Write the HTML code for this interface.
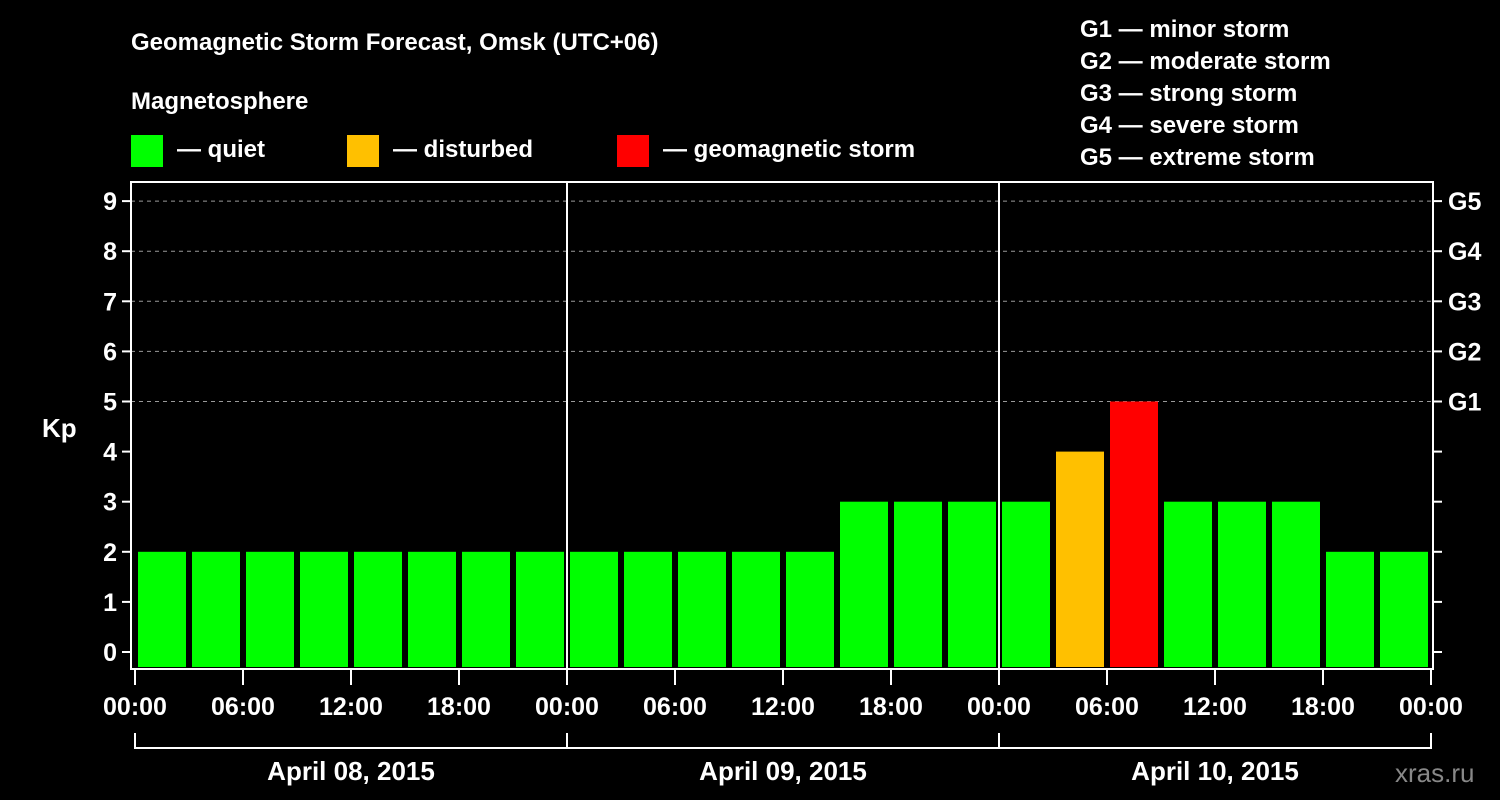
<!DOCTYPE html>
<html><head><meta charset="utf-8">
<style>
html,body{margin:0;padding:0;background:#000;}
svg{display:block;font-family:"Liberation Sans",Arial,sans-serif;font-weight:bold;}
</style></head>
<body>
<svg id="chart" width="1500" height="800" viewBox="0 0 1500 800">
<text x="131" y="50" fill="#fff" font-size="24">Geomagnetic Storm Forecast, Omsk (UTC+06)</text>
<text x="131" y="109" fill="#fff" font-size="24">Magnetosphere</text>
<g><rect x="131" y="135" width="32" height="32" fill="#00ff00"/><text x="177" y="157" fill="#fff" font-size="24">— quiet</text></g>
<g><rect x="347" y="135" width="32" height="32" fill="#ffc000"/><text x="393" y="157" fill="#fff" font-size="24">— disturbed</text></g>
<g><rect x="617" y="135" width="32" height="32" fill="#ff0000"/><text x="663" y="157" fill="#fff" font-size="24">— geomagnetic storm</text></g>
<g fill="#fff" font-size="24">
<text x="1080" y="37">G1 — minor storm</text>
<text x="1080" y="69">G2 — moderate storm</text>
<text x="1080" y="101">G3 — strong storm</text>
<text x="1080" y="133">G4 — severe storm</text>
<text x="1080" y="165">G5 — extreme storm</text>
</g>
<g id="grid"></g>
<g id="bars"></g>
<g id="axes"></g>
<text x="42" y="437" fill="#fff" font-size="26">Kp</text>
<text x="1395" y="782" fill="#888" font-size="26" font-weight="normal">xras.ru</text>
</svg>
<script>
const kpValues=[2,2,2,2,2,2,2,2, 2,2,2,2,2,3,3,3, 3,4,5,3,3,3,2,2];
const yTicks=[0,1,2,3,4,5,6,7,8,9];
const gLabels=["G1","G2","G3","G4","G5"];
const xTickLabels=["00:00","06:00","12:00","18:00","00:00","06:00","12:00","18:00","00:00","06:00","12:00","18:00","00:00"];
const dayLabels=["April 08, 2015","April 09, 2015","April 10, 2015"];
const NS="http://www.w3.org/2000/svg";
const L=131,R=1433,T=182,B=669,X0=135,DAY=432;
const y=v=>652-50.1*v;
const x=h=>X0+h*DAY/24;
function mk(tag,attrs,parent,txt){const e=document.createElementNS(NS,tag);for(const k in attrs)e.setAttribute(k,attrs[k]);if(txt!==undefined)e.textContent=txt;parent.appendChild(e);return e;}
const grid=document.getElementById('grid'),bars=document.getElementById('bars'),axes=document.getElementById('axes');
yTicks.forEach(v=>{
 if(v>=5){const g=mk('line',{x1:L,x2:R,y1:y(v),y2:y(v),stroke:'#999','stroke-width':1,'stroke-dasharray':'4,4'},grid);
 
 }
 const t=mk('line',{x1:L-9,x2:L,y1:y(v),y2:y(v),stroke:'#fff','stroke-width':2},axes);
 
 
 const tr=mk('line',{x1:R,x2:R+9,y1:y(v),y2:y(v),stroke:'#fff','stroke-width':2},axes);
 
 
 const lb=mk('text',{x:L-14,y:y(v)+9,fill:'#fff','font-size':25,'text-anchor':'end'},axes,String(v));
 
 
});
gLabels.forEach((g,i)=>{
 const t=mk('text',{x:R+15,y:y(5+i)+9,fill:'#fff','font-size':25},axes,g);
 
 
});
kpValues.forEach((v,i)=>{
 const col=v>=5?'#ff0000':(v>=4?'#ffc000':'#00ff00');
 const b=mk('rect',{x:x(i*3)+3,y:y(v),width:DAY/8-6,height:667-y(v),fill:col},bars);
 
 
});
[1,2].forEach(d=>{
 const l=mk('line',{x1:x(d*24),x2:x(d*24),y1:T,y2:B,stroke:'#fff','stroke-width':2},axes);
 
 
});
const fr=mk('rect',{x:L,y:T,width:R-L,height:B-T,fill:'none',stroke:'#fff','stroke-width':2},axes);


xTickLabels.forEach((s,i)=>{
 const xx=x(i*6);
 const t=mk('line',{x1:xx,x2:xx,y1:B,y2:B+16,stroke:'#fff','stroke-width':2},axes);
 
 
 const lb=mk('text',{x:xx,y:715,fill:'#fff','font-size':25,'text-anchor':'middle'},axes,s);
 
 
});
const br=mk('line',{x1:x(0),x2:x(72),y1:748,y2:748,stroke:'#fff','stroke-width':2},axes);


[0,1,2,3].forEach(d=>{
 const l=mk('line',{x1:x(d*24),x2:x(d*24),y1:733,y2:749,stroke:'#fff','stroke-width':2},axes);
 
 
});
dayLabels.forEach((s,i)=>{
 const t=mk('text',{x:x(i*24+12),y:780,fill:'#fff','font-size':26,'text-anchor':'middle'},axes,s);
 
 
});
</script>
</body></html>
